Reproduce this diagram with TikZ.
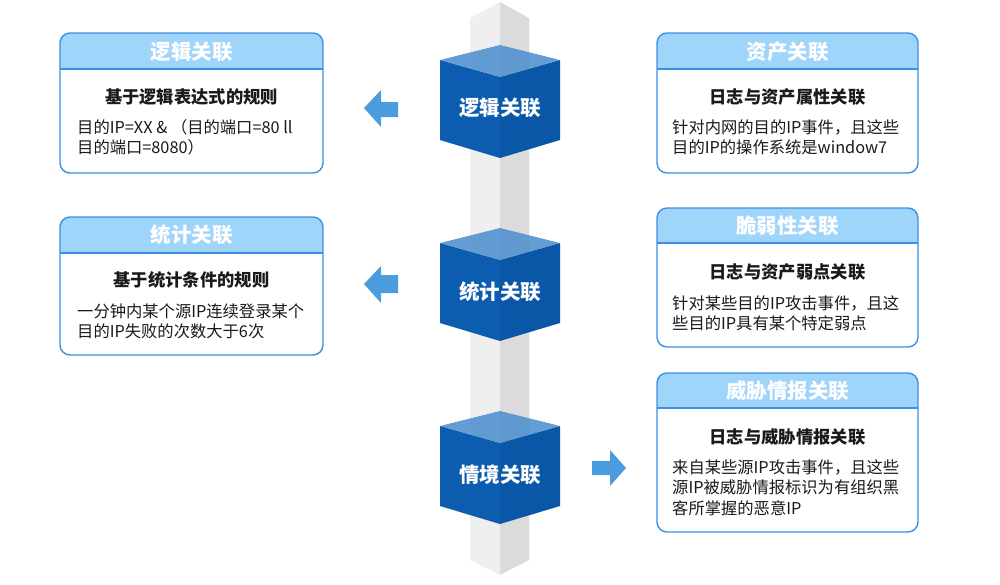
\documentclass[tikz,border=0pt]{standalone}
\usepackage{fontspec}
\setmainfont{Noto Sans CJK SC}
\definecolor{pilL}{HTML}{EFEFEF}
\definecolor{pilR}{HTML}{DBDBDB}
\definecolor{cubeL}{HTML}{0C5CAF}
\definecolor{cubeR}{HTML}{0A57A8}
\definecolor{cubeT}{HTML}{4E90CF}
\definecolor{hdr}{HTML}{9FD4FB}
\definecolor{bord}{HTML}{3C90E2}
\definecolor{arr}{HTML}{4C9DDF}
\definecolor{txt}{HTML}{1A1A1A}
\tikzset{
  hdrtext/.style={text=white,font=\fontsize{20.5}{24}\selectfont\bfseries,inner sep=0pt,text height=18pt,text depth=2.5pt,anchor=center},
  cubetext/.style={text=white,font=\fontsize{20.5}{24}\selectfont\bfseries,inner sep=0pt,text height=18pt,text depth=2.5pt,anchor=center},
  titletext/.style={text=txt,font=\fontsize{17.3}{21}\selectfont\bfseries,inner sep=0pt,text height=15.2pt,text depth=2.1pt,anchor=center},
  bodytext/.style={text=txt,font=\fontsize{16.3}{20}\selectfont,inner sep=0pt,text height=14.3pt,text depth=2pt,anchor=west},
  boxframe/.style={draw=bord,line width=1.4pt,rounded corners=10pt},
  blockarrow/.style={fill=arr}
}
\newcommand{\infobox}[6]{% name, x1, y1, x2, y2, yh
  \begin{scope}
    \clip[rounded corners=10pt] (#2,#3) rectangle (#4,#5);
    \fill[hdr] (#2,#3) rectangle (#4,#6);
    \fill[white] (#2,#6) rectangle (#4,#5);
  \end{scope}
  \draw[bord,line width=1.4pt] (#2,#6) -- (#4,#6);
  \node[boxframe,inner sep=0pt,minimum width={(#4-#2)*1pt},minimum height={(#5-#3)*1pt}] (#1) at ({(#2+#4)/2},{(#3+#5)/2}) {};
}
\newcommand{\cube}[2]{% name, ytop
  \fill[cubeL] (440,#2+15) -- (500,#2+32) -- (500,#2+113) -- (440,#2+95) -- cycle;
  \fill[cubeR] (500,#2+32) -- (560,#2+15) -- (560,#2+95) -- (500,#2+113) -- cycle;
  \fill[cubeT,opacity=0.88] (440,#2+15) -- (500,#2) -- (560,#2+15) -- (500,#2+32) -- cycle;
  \coordinate (#1) at (500,#2+63);
}
\begin{document}
\begin{tikzpicture}[x=1pt,y=-1pt]
\useasboundingbox (0,0) rectangle (1000,584);
\fill[white] (0,0) rectangle (1000,584);
% pillar
\fill[pilL] (470,18) -- (500,2) -- (500,575) -- (470,560) -- cycle;
\fill[pilR] (500,2) -- (529,18) -- (529,560) -- (500,575) -- cycle;
% cubes
\cube{c1}{45}
\cube{c2}{228}
\cube{c3}{411}
\node[cubetext] (ct1) at (500,108) {逻辑关联};
\node[cubetext] (ct2) at (500,292) {统计关联};
\node[cubetext] (ct3) at (500,475) {情境关联};
% arrows
\fill[blockarrow] (364,108) -- (381,90) -- (381,102) -- (398,102) -- (398,117) -- (381,117) -- (381,127) -- cycle;
\fill[blockarrow] (364,284) -- (381,266) -- (381,275) -- (398,275) -- (398,293) -- (381,293) -- (381,303) -- cycle;
\fill[blockarrow] (626,468) -- (610,450) -- (610,461) -- (592,461) -- (592,475) -- (610,475) -- (610,486) -- cycle;
% boxes
\infobox{b1}{60}{33}{323}{173}{69}
\node[hdrtext] (h1) at (191.5,52) {逻辑关联};
\node[titletext] (t1) at (191.5,97) {基于逻辑表达式的规则};
\node[bodytext] (l1a) at (77,127) {目的IP=XX \& （目的端口=80 ll};
\node[bodytext] (l1b) at (77,147.5) {目的端口=8080）};

\infobox{b2}{60}{217}{323}{355}{253}
\node[hdrtext] (h2) at (191.5,235) {统计关联};
\node[titletext] (t2) at (191.5,280) {基于统计条件的规则};
\node[bodytext] (l2a) at (77,311) {一分钟内某个源IP连续登录某个};
\node[bodytext] (l2b) at (77,331.5) {目的IP失败的次数大于6次};

\infobox{b3}{657}{33}{918}{173}{69}
\node[hdrtext] (h3) at (787.5,52) {资产关联};
\node[titletext] (t3) at (787.5,97) {日志与资产属性关联};
\node[bodytext] (l3a) at (672,127) {针对内网的目的IP事件，且这些};
\node[bodytext] (l3b) at (672,147.5) {目的IP的操作系统是window7};

\infobox{b4}{657}{208}{918}{347}{243}
\node[hdrtext] (h4) at (787.5,226) {脆弱性关联};
\node[titletext] (t4) at (787.5,272) {日志与资产弱点关联};
\node[bodytext] (l4a) at (672,303) {针对某些目的IP攻击事件，且这};
\node[bodytext] (l4b) at (672,323.5) {些目的IP具有某个特定弱点};

\infobox{b5}{657}{373}{918}{532}{408}
\node[hdrtext] (h5) at (787.5,391) {威胁情报关联};
\node[titletext] (t5) at (787.5,437) {日志与威胁情报关联};
\node[bodytext] (l5a) at (672,467) {来自某些源IP攻击事件，且这些};
\node[bodytext] (l5b) at (672,487.5) {源IP被威胁情报标识为有组织黑};
\node[bodytext] (l5c) at (672,508) {客所掌握的恶意IP};
\end{tikzpicture}
\end{document}
